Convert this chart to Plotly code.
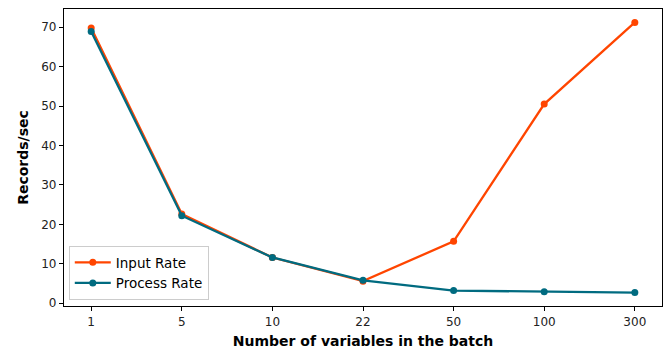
import plotly.graph_objects as go

categories = ["1", "5", "10", "22", "50", "100", "300"]
input_rate = [69.8, 22.6, 11.6, 5.6, 15.7, 50.5, 71.2]
process_rate = [68.9, 22.2, 11.6, 5.8, 3.2, 2.9, 2.7]
y_ticks = [0, 10, 20, 30, 40, 50, 60, 70]

FONT = "DejaVu Sans"

fig = go.Figure()
fig.add_trace(go.Scatter(x=categories, y=input_rate, mode="lines+markers", name="Input Rate",
                         line=dict(color="#FF4500", width=2.3), marker=dict(size=7, color="#FF4500")))
fig.add_trace(go.Scatter(x=categories, y=process_rate, mode="lines+markers", name="Process Rate",
                         line=dict(color="#006B80", width=2.3), marker=dict(size=7, color="#006B80")))

axis_common = dict(showline=True, linecolor="black", linewidth=1.2, mirror=True, ticks="outside",
                   ticklen=4, tickcolor="black", showgrid=False, zeroline=False,
                   tickfont=dict(family=FONT, size=12, color="#222"))

fig.update_layout(
    width=667, height=354,
    margin=dict(l=64, r=5, t=9, b=48),
    plot_bgcolor="white", paper_bgcolor="white",
    font=dict(family=FONT, color="black"),
    xaxis=dict(type="category", range=[-0.3, 6.3],
               title=dict(text="<b>Number of variables in the batch</b>", font=dict(family=FONT, size=14), standoff=8),
               **axis_common),
    yaxis=dict(range=[-0.7, 74.6], tickvals=y_ticks,
               title=dict(text="<b>Records/sec</b>", font=dict(family=FONT, size=14), standoff=9),
               **axis_common),
    legend=dict(x=0.008, y=0.02, xanchor="left", yanchor="bottom", bgcolor="rgba(255,255,255,0.8)",
                bordercolor="#ccc", borderwidth=1, font=dict(family=FONT, size=13.5),
                tracegroupgap=0, itemwidth=36),
    showlegend=True,
)

fig.write_html("out.html")
